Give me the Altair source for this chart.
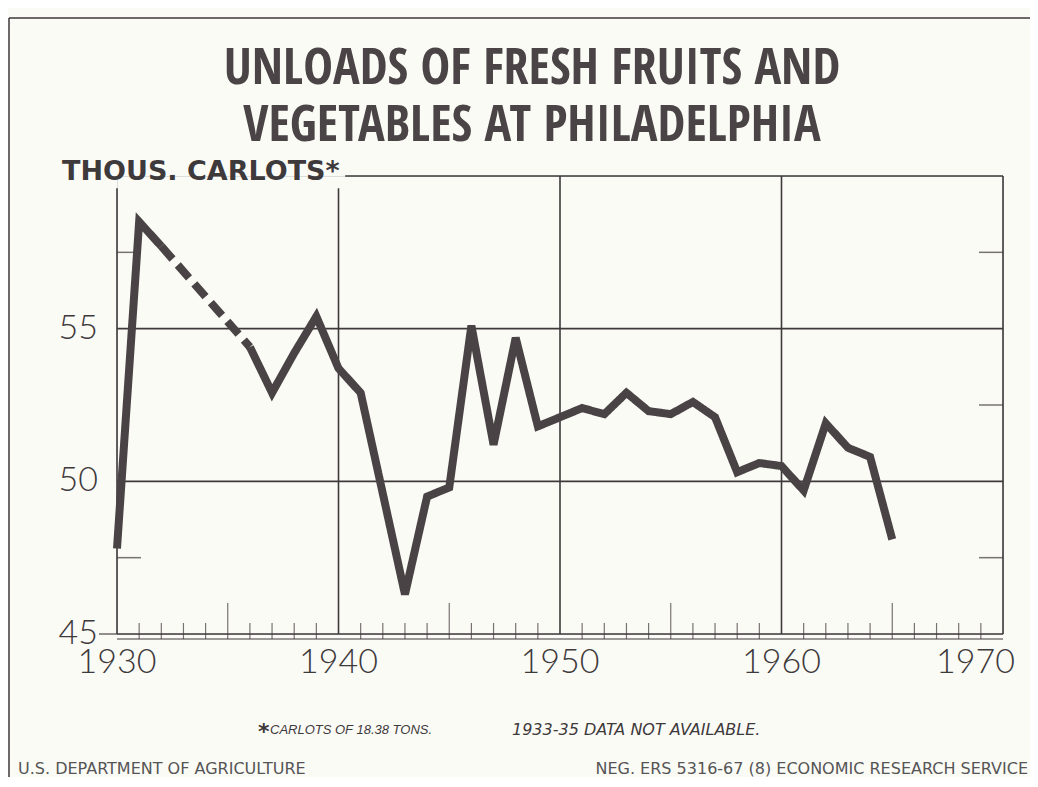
import altair as alt
import pandas as pd

# ---- data (thousand carlots) ----
years = [1930, 1931, 1932, 1936, 1937, 1938, 1939, 1940, 1941, 1942, 1943,
         1944, 1945, 1946, 1947, 1948, 1949, 1950, 1951, 1952, 1953, 1954,
         1955, 1956, 1957, 1958, 1959, 1960, 1961, 1962, 1963, 1964, 1965]
carlots = [47.8, 58.5, 57.7, 54.4, 52.9, 54.2, 55.4, 53.7, 52.9, 49.6, 46.3,
           49.5, 49.8, 55.1, 51.2, 54.7, 51.8, 52.1, 52.4, 52.2, 52.9, 52.3,
           52.2, 52.6, 52.1, 50.3, 50.6, 50.5, 49.7, 51.9, 51.1, 50.8, 48.1]
gap_start, gap_end = 1932, 1936          # 1933-35 data not available

x_labels = [1930, 1940, 1950, 1960]
x_last_label = [1970]
y_labels = [45, 50, 55]
full_frame_lines = [1950, 1960, 1970]
short_frame_lines = [1930, 1940]
h_grid = [45, 50, 55]
minor_years = [y for y in range(1931, 1970) if y % 5 != 0]
mid_years = [1935, 1945, 1955, 1965]
left_minor = [47.5, 57.5]
right_minor = [47.5, 52.5, 57.5]

INK = "#3e393b"
LINE = "#4a4345"
BG = "#fbfbf6"

rows = []
for yr, v in zip(years, carlots):
    if yr <= gap_start:
        rows.append({"year": yr, "v": v, "seg": "a"})
    if yr in (gap_start, gap_end):
        rows.append({"year": yr, "v": v, "seg": "gap"})
    if yr >= gap_end:
        rows.append({"year": yr, "v": v, "seg": "b"})
df = pd.DataFrame(rows)

xs = alt.Scale(domain=[1930, 1970], nice=False, zero=False)
ys = alt.Scale(domain=[45, 60], nice=False, zero=False)
W, H = 886, 458
one = alt.Data(values=[{}])


def X(f):
    return alt.X(f, scale=xs, axis=None)


def Y(f):
    return alt.Y(f, scale=ys, axis=None)


vfull = alt.Chart(pd.DataFrame({"x": full_frame_lines})).mark_rule(
    color=INK, strokeWidth=1.6).encode(x=X("x:Q"), y=Y("y0:Q"), y2="y1:Q"
).transform_calculate(y0="45", y1="60")

vshort = alt.Chart(pd.DataFrame({"x": short_frame_lines})).mark_rule(
    color=INK, strokeWidth=1.6).encode(x=X("x:Q"), y=Y("y0:Q"), y2="y1:Q"
).transform_calculate(y0="45", y1="59.6")

top_line = alt.Chart(one).mark_rule(color=INK, strokeWidth=1.6).encode(
    x=X("a:Q"), x2="b:Q", y=Y("c:Q")
).transform_calculate(a="1940.3", b="1970", c="60")

hgrid = alt.Chart(pd.DataFrame({"y": h_grid})).mark_rule(
    color=INK, strokeWidth=1.6).encode(y=Y("y:Q"), x=X("a:Q"), x2="b:Q"
).transform_calculate(a="1930", b="1970")

under_line = alt.Chart(one).mark_rule(color=INK, strokeWidth=1.0, yOffset=5
).encode(y=Y("c:Q"), x=X("a:Q"), x2="b:Q"
).transform_calculate(a="1930", b="1970", c="45")

dash45 = alt.Chart(one).mark_tick(color=INK, orient="horizontal", size=18,
                                  xOffset=-9, thickness=1.6).encode(
    x=X("a:Q"), y=Y("c:Q")).transform_calculate(a="1930", c="45")

lminor = alt.Chart(pd.DataFrame({"y": left_minor})).mark_tick(
    color=INK, orient="horizontal", size=24, xOffset=12, thickness=1.5).encode(
    y=Y("y:Q"), x=X("a:Q")).transform_calculate(a="1930")

rminor = alt.Chart(pd.DataFrame({"y": right_minor})).mark_tick(
    color=INK, orient="horizontal", size=24, xOffset=-12, thickness=1.5).encode(
    y=Y("y:Q"), x=X("a:Q")).transform_calculate(a="1970")

bticks = alt.Chart(pd.DataFrame({"x": minor_years})).mark_tick(
    color=INK, orient="vertical", size=16, yOffset=-3, thickness=1.2).encode(
    x=X("x:Q"), y=Y("c:Q")).transform_calculate(c="45")

mticks = alt.Chart(pd.DataFrame({"x": mid_years})).mark_tick(
    color=INK, orient="vertical", size=36, yOffset=-13, thickness=1.2).encode(
    x=X("x:Q"), y=Y("c:Q")).transform_calculate(c="45")

line = alt.Chart(df).mark_line(color=LINE, strokeWidth=8, strokeJoin="miter",
                               strokeCap="butt").encode(
    x=X("year:Q"), y=Y("v:Q"), detail="seg:N",
    strokeDash=alt.StrokeDash("seg:N", legend=None,
                              scale=alt.Scale(domain=["a", "gap", "b"],
                                              range=[[1, 0], [17, 8], [1, 0]])),
)

LAB = dict(font="Lato", fontWeight=300, fontSize=34, color=INK,
           baseline="middle")

xlab = alt.Chart(pd.DataFrame({"x": x_labels})).mark_text(
    align="center", dy=29, **LAB).encode(
    x=X("x:Q"), y=Y("c:Q"), text=alt.Text("x:Q", format="d")
).transform_calculate(c="45")

xlab_last = alt.Chart(pd.DataFrame({"x": x_last_label})).mark_text(
    align="right", dy=29, dx=12, **LAB).encode(
    x=X("x:Q"), y=Y("c:Q"), text=alt.Text("x:Q", format="d")
).transform_calculate(c="45")

ylab = alt.Chart(pd.DataFrame({"y": y_labels})).mark_text(
    align="right", dx=-19, **LAB).encode(
    y=Y("y:Q"), x=X("a:Q"), text=alt.Text("y:Q", format="d")
).transform_calculate(a="1930")


def txt(t, x, y, **kw):
    return alt.Chart(one).mark_text(text=t, **kw).encode(
        x=alt.value(x), y=alt.value(y))


TFONT = "Open Sans Condensed, DejaVu Sans Condensed, sans-serif"
texts = [
    txt("UNLOADS OF FRESH FRUITS AND", 415, -107, font=TFONT, fontSize=50,
        fontWeight=800, color="#4a4446", align="center", baseline="middle"),
    txt("VEGETABLES AT PHILADELPHIA", 415, -50, font=TFONT, fontSize=50,
        fontWeight=800, color="#4a4446", align="center", baseline="middle"),
    txt("THOUS. CARLOTS*", -55, -4, font="DejaVu Sans", fontSize=27,
        fontWeight="bold", color=INK, align="left", baseline="middle"),
    txt("*", 141, 556, font="DejaVu Sans", fontSize=22, fontWeight="bold",
        color=INK, align="left", baseline="middle"),
    txt("CARLOTS OF 18.38 TONS.", 153, 554, font="Liberation Sans", fontSize=13,
        fontStyle="italic", color=INK, align="left", baseline="middle"),
    txt("1933-35 DATA NOT AVAILABLE.", 395, 554, font="DejaVu Sans",
        fontSize=16, fontStyle="italic", color=INK,
        align="left", baseline="middle"),
    txt("U.S. DEPARTMENT OF AGRICULTURE", -99, 593, font="DejaVu Sans",
        fontSize=16, color="#555", align="left", baseline="middle"),
    txt("NEG. ERS 5316-67 (8)     ECONOMIC RESEARCH SERVICE", 911, 593,
        font="DejaVu Sans", fontSize=16, color="#555", align="right",
        baseline="middle"),
]

frame_left = alt.Chart(one).mark_rule(color=INK, strokeWidth=1.5).encode(
    x=alt.value(-108), y=alt.value(-158), y2=alt.value(605))
frame_top = alt.Chart(one).mark_rule(color=INK, strokeWidth=1.5).encode(
    x=alt.value(-108), x2=alt.value(913), y=alt.value(-158))

chart = alt.layer(
    frame_left, frame_top, vfull, vshort, top_line, hgrid, under_line, dash45,
    lminor, rminor, bticks, mticks, line, xlab, xlab_last, ylab, *texts
).properties(
    width=W, height=H,
    padding={"left": 109, "top": 168, "right": 27, "bottom": 143},
    autosize=alt.AutoSizeParams(type="none"),
).configure_view(stroke=None).configure(background=BG)

chart.save("out.html", embed_options={"renderer": "svg", "actions": False})
